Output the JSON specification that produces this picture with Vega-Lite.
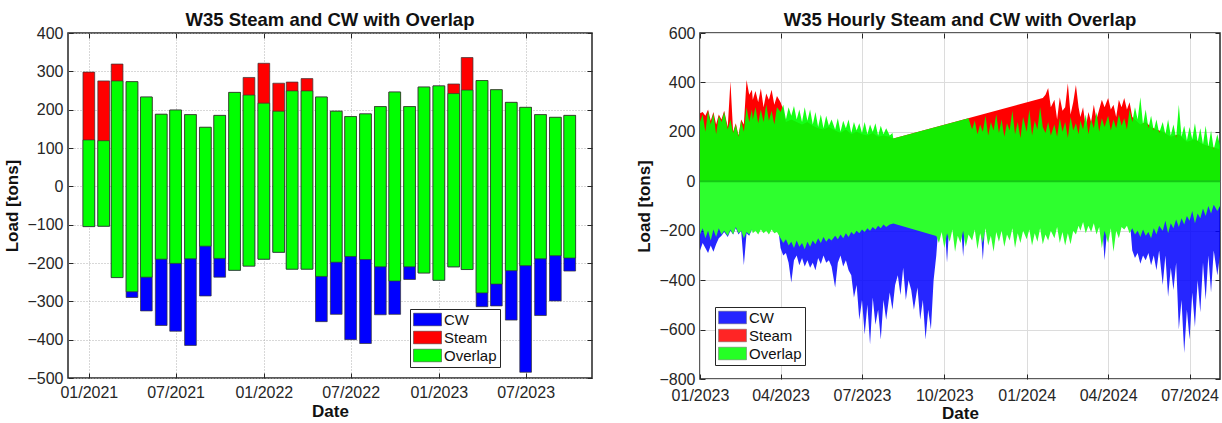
{
  "$schema": "https://vega.github.io/schema/vega-lite/v6.json",
  "padding": {"left": 3, "top": 9, "right": 2, "bottom": 0},
  "spacing": 41,
  "config": {
    "font": "Liberation Sans",
    "view": {"stroke": "#262626", "strokeWidth": 1.5},
    "axis": {"labelFontSize": 16, "labelColor": "#262626", "titleFontSize": 17, "titleFontWeight": "bold", "titleColor": "#111", "tickColor": "#262626", "domain": false, "labelFont": "Liberation Sans", "titleFont": "Liberation Sans", "labelFlush": false},
    "title": {"fontSize": 18.5, "fontWeight": "bold", "font": "Liberation Sans", "offset": -4, "color": "#111"},
    "legend": {"labelFont": "Liberation Sans"}
  },
  "resolve": {"scale": {"color": "independent"}},
  "datasets": {
    "monthly": [
      {"t": "2021-01-01", "s": 298, "g": 121, "gb": -105, "c": -105},
      {"t": "2021-02-01", "s": 275, "g": 119, "gb": -104, "c": -104},
      {"t": "2021-03-01", "s": 319, "g": 275, "gb": -238, "c": -238},
      {"t": "2021-04-01", "s": 273, "g": 273, "gb": -275, "c": -290},
      {"t": "2021-05-01", "s": 233, "g": 233, "gb": -237, "c": -325},
      {"t": "2021-06-01", "s": 188, "g": 188, "gb": -190, "c": -363},
      {"t": "2021-07-01", "s": 199, "g": 199, "gb": -201, "c": -378},
      {"t": "2021-08-01", "s": 187, "g": 187, "gb": -189, "c": -415},
      {"t": "2021-09-01", "s": 154, "g": 154, "gb": -156, "c": -286},
      {"t": "2021-10-01", "s": 185, "g": 185, "gb": -188, "c": -237},
      {"t": "2021-11-01", "s": 245, "g": 245, "gb": -219, "c": -219},
      {"t": "2021-12-01", "s": 284, "g": 238, "gb": -208, "c": -208},
      {"t": "2022-01-01", "s": 321, "g": 217, "gb": -190, "c": -190},
      {"t": "2022-02-01", "s": 269, "g": 196, "gb": -172, "c": -172},
      {"t": "2022-03-01", "s": 272, "g": 249, "gb": -216, "c": -216},
      {"t": "2022-04-01", "s": 281, "g": 249, "gb": -216, "c": -216},
      {"t": "2022-05-01", "s": 233, "g": 233, "gb": -235, "c": -353},
      {"t": "2022-06-01", "s": 196, "g": 196, "gb": -198, "c": -334},
      {"t": "2022-07-01", "s": 182, "g": 182, "gb": -183, "c": -400},
      {"t": "2022-08-01", "s": 189, "g": 189, "gb": -191, "c": -410},
      {"t": "2022-09-01", "s": 208, "g": 208, "gb": -210, "c": -335},
      {"t": "2022-10-01", "s": 246, "g": 246, "gb": -247, "c": -334},
      {"t": "2022-11-01", "s": 208, "g": 208, "gb": -210, "c": -243},
      {"t": "2022-12-01", "s": 259, "g": 259, "gb": -226, "c": -226},
      {"t": "2023-01-01", "s": 262, "g": 262, "gb": -245, "c": -245},
      {"t": "2023-02-01", "s": 267, "g": 242, "gb": -210, "c": -210},
      {"t": "2023-03-01", "s": 336, "g": 251, "gb": -217, "c": -217},
      {"t": "2023-04-01", "s": 276, "g": 276, "gb": -278, "c": -314},
      {"t": "2023-05-01", "s": 252, "g": 252, "gb": -255, "c": -312},
      {"t": "2023-06-01", "s": 219, "g": 219, "gb": -220, "c": -349},
      {"t": "2023-07-01", "s": 206, "g": 206, "gb": -207, "c": -485},
      {"t": "2023-08-01", "s": 187, "g": 187, "gb": -189, "c": -337},
      {"t": "2023-09-01", "s": 180, "g": 180, "gb": -181, "c": -299},
      {"t": "2023-10-01", "s": 185, "g": 185, "gb": -187, "c": -221}
    ],
    "steam": [
      {"t": "2023-01-01", "v": 275}, {"t": "2023-01-04", "v": 280}, {"t": "2023-01-07", "v": 265}, {"t": "2023-01-10", "v": 290}, {"t": "2023-01-13", "v": 245}, {"t": "2023-01-16", "v": 280}, {"t": "2023-01-19", "v": 230}, {"t": "2023-01-22", "v": 270}, {"t": "2023-01-25", "v": 250}, {"t": "2023-01-28", "v": 285},
      {"t": "2023-02-01", "v": 220}, {"t": "2023-02-04", "v": 404}, {"t": "2023-02-07", "v": 200}, {"t": "2023-02-10", "v": 235}, {"t": "2023-02-13", "v": 185}, {"t": "2023-02-16", "v": 250}, {"t": "2023-02-19", "v": 230}, {"t": "2023-02-22", "v": 410}, {"t": "2023-02-25", "v": 350}, {"t": "2023-02-28", "v": 370},
      {"t": "2023-03-01", "v": 330}, {"t": "2023-03-04", "v": 365}, {"t": "2023-03-07", "v": 320}, {"t": "2023-03-10", "v": 375}, {"t": "2023-03-13", "v": 300}, {"t": "2023-03-16", "v": 355}, {"t": "2023-03-19", "v": 330}, {"t": "2023-03-22", "v": 370}, {"t": "2023-03-25", "v": 310}, {"t": "2023-03-28", "v": 345},
      {"t": "2023-04-01", "v": 320}, {"t": "2023-04-04", "v": 290}, {"t": "2023-04-07", "v": 240}, {"t": "2023-04-13", "v": 250}, {"t": "2023-04-19", "v": 240}, {"t": "2023-04-25", "v": 230},
      {"t": "2023-05-01", "v": 240}, {"t": "2023-05-07", "v": 225}, {"t": "2023-05-13", "v": 215}, {"t": "2023-05-19", "v": 210}, {"t": "2023-05-25", "v": 220},
      {"t": "2023-06-01", "v": 205}, {"t": "2023-06-07", "v": 195}, {"t": "2023-06-13", "v": 210}, {"t": "2023-06-19", "v": 190}, {"t": "2023-06-25", "v": 200},
      {"t": "2023-07-01", "v": 190}, {"t": "2023-07-07", "v": 185}, {"t": "2023-07-13", "v": 195}, {"t": "2023-07-19", "v": 180}, {"t": "2023-07-25", "v": 185},
      {"t": "2023-08-01", "v": 180}, {"t": "2023-08-05", "v": 173},
      {"t": "2024-01-19", "v": 337}, {"t": "2024-01-22", "v": 350}, {"t": "2024-01-25", "v": 377}, {"t": "2024-01-28", "v": 300},
      {"t": "2024-02-01", "v": 330}, {"t": "2024-02-04", "v": 250}, {"t": "2024-02-07", "v": 340}, {"t": "2024-02-10", "v": 285}, {"t": "2024-02-13", "v": 300}, {"t": "2024-02-16", "v": 397}, {"t": "2024-02-19", "v": 270}, {"t": "2024-02-22", "v": 320}, {"t": "2024-02-25", "v": 390}, {"t": "2024-02-28", "v": 300},
      {"t": "2024-03-01", "v": 260}, {"t": "2024-03-04", "v": 300}, {"t": "2024-03-07", "v": 220}, {"t": "2024-03-10", "v": 280}, {"t": "2024-03-13", "v": 240}, {"t": "2024-03-16", "v": 310}, {"t": "2024-03-19", "v": 250}, {"t": "2024-03-22", "v": 290}, {"t": "2024-03-25", "v": 330}, {"t": "2024-03-28", "v": 300},
      {"t": "2024-04-01", "v": 337}, {"t": "2024-04-04", "v": 290}, {"t": "2024-04-07", "v": 310}, {"t": "2024-04-10", "v": 260}, {"t": "2024-04-13", "v": 330}, {"t": "2024-04-16", "v": 300}, {"t": "2024-04-19", "v": 337}, {"t": "2024-04-22", "v": 290}, {"t": "2024-04-25", "v": 320}, {"t": "2024-04-28", "v": 260},
      {"t": "2024-05-01", "v": 250}, {"t": "2024-05-07", "v": 230}, {"t": "2024-05-13", "v": 240}, {"t": "2024-05-19", "v": 220}, {"t": "2024-05-25", "v": 210},
      {"t": "2024-06-01", "v": 200}, {"t": "2024-06-10", "v": 180}, {"t": "2024-06-19", "v": 190}, {"t": "2024-06-28", "v": 160},
      {"t": "2024-07-07", "v": 170}, {"t": "2024-07-16", "v": 150}, {"t": "2024-07-25", "v": 140}, {"t": "2024-08-04", "v": 130}
    ],
    "ovtop": [
      {"t": "2023-01-01", "v": 240}, {"t": "2023-01-04", "v": 270}, {"t": "2023-01-07", "v": 200}, {"t": "2023-01-10", "v": 285}, {"t": "2023-01-13", "v": 230}, {"t": "2023-01-16", "v": 275}, {"t": "2023-01-19", "v": 190}, {"t": "2023-01-22", "v": 265}, {"t": "2023-01-25", "v": 240}, {"t": "2023-01-28", "v": 280},
      {"t": "2023-02-01", "v": 210}, {"t": "2023-02-04", "v": 250}, {"t": "2023-02-07", "v": 195}, {"t": "2023-02-10", "v": 230}, {"t": "2023-02-13", "v": 180}, {"t": "2023-02-16", "v": 245}, {"t": "2023-02-19", "v": 200}, {"t": "2023-02-22", "v": 300}, {"t": "2023-02-25", "v": 240}, {"t": "2023-02-28", "v": 290},
      {"t": "2023-03-01", "v": 250}, {"t": "2023-03-04", "v": 300}, {"t": "2023-03-07", "v": 235}, {"t": "2023-03-10", "v": 290}, {"t": "2023-03-13", "v": 240}, {"t": "2023-03-16", "v": 310}, {"t": "2023-03-19", "v": 245}, {"t": "2023-03-22", "v": 285}, {"t": "2023-03-25", "v": 230}, {"t": "2023-03-28", "v": 300},
      {"t": "2023-04-01", "v": 280}, {"t": "2023-04-04", "v": 310}, {"t": "2023-04-07", "v": 250}, {"t": "2023-04-10", "v": 300}, {"t": "2023-04-13", "v": 265}, {"t": "2023-04-16", "v": 305}, {"t": "2023-04-19", "v": 250}, {"t": "2023-04-22", "v": 290}, {"t": "2023-04-25", "v": 240}, {"t": "2023-04-28", "v": 300},
      {"t": "2023-05-01", "v": 245}, {"t": "2023-05-04", "v": 290}, {"t": "2023-05-07", "v": 230}, {"t": "2023-05-10", "v": 280}, {"t": "2023-05-13", "v": 220}, {"t": "2023-05-16", "v": 270}, {"t": "2023-05-19", "v": 215}, {"t": "2023-05-22", "v": 265}, {"t": "2023-05-25", "v": 225}, {"t": "2023-05-28", "v": 250},
      {"t": "2023-06-01", "v": 210}, {"t": "2023-06-04", "v": 255}, {"t": "2023-06-07", "v": 200}, {"t": "2023-06-10", "v": 245}, {"t": "2023-06-13", "v": 215}, {"t": "2023-06-16", "v": 250}, {"t": "2023-06-19", "v": 195}, {"t": "2023-06-22", "v": 240}, {"t": "2023-06-25", "v": 205}, {"t": "2023-06-28", "v": 235},
      {"t": "2023-07-01", "v": 195}, {"t": "2023-07-04", "v": 240}, {"t": "2023-07-07", "v": 190}, {"t": "2023-07-10", "v": 230}, {"t": "2023-07-13", "v": 200}, {"t": "2023-07-16", "v": 235}, {"t": "2023-07-19", "v": 185}, {"t": "2023-07-22", "v": 225}, {"t": "2023-07-25", "v": 190}, {"t": "2023-07-28", "v": 215},
      {"t": "2023-08-01", "v": 185}, {"t": "2023-08-04", "v": 195}, {"t": "2023-08-05", "v": 173},
      {"t": "2023-10-28", "v": 255},
      {"t": "2023-11-01", "v": 210}, {"t": "2023-11-04", "v": 245}, {"t": "2023-11-07", "v": 190}, {"t": "2023-11-10", "v": 230}, {"t": "2023-11-13", "v": 200}, {"t": "2023-11-16", "v": 265}, {"t": "2023-11-19", "v": 185}, {"t": "2023-11-22", "v": 240}, {"t": "2023-11-25", "v": 205}, {"t": "2023-11-28", "v": 270},
      {"t": "2023-12-01", "v": 195}, {"t": "2023-12-04", "v": 250}, {"t": "2023-12-07", "v": 180}, {"t": "2023-12-10", "v": 235}, {"t": "2023-12-13", "v": 205}, {"t": "2023-12-16", "v": 285}, {"t": "2023-12-19", "v": 190}, {"t": "2023-12-22", "v": 240}, {"t": "2023-12-25", "v": 175}, {"t": "2023-12-28", "v": 260},
      {"t": "2024-01-01", "v": 200}, {"t": "2024-01-04", "v": 290}, {"t": "2024-01-07", "v": 185}, {"t": "2024-01-10", "v": 245}, {"t": "2024-01-13", "v": 210}, {"t": "2024-01-16", "v": 300}, {"t": "2024-01-19", "v": 220}, {"t": "2024-01-22", "v": 195}, {"t": "2024-01-25", "v": 240}, {"t": "2024-01-28", "v": 185},
      {"t": "2024-02-01", "v": 230}, {"t": "2024-02-04", "v": 180}, {"t": "2024-02-07", "v": 255}, {"t": "2024-02-10", "v": 200}, {"t": "2024-02-13", "v": 240}, {"t": "2024-02-16", "v": 175}, {"t": "2024-02-19", "v": 260}, {"t": "2024-02-22", "v": 205}, {"t": "2024-02-25", "v": 235}, {"t": "2024-02-28", "v": 190},
      {"t": "2024-03-01", "v": 245}, {"t": "2024-03-04", "v": 210}, {"t": "2024-03-07", "v": 270}, {"t": "2024-03-10", "v": 190}, {"t": "2024-03-13", "v": 250}, {"t": "2024-03-16", "v": 215}, {"t": "2024-03-19", "v": 280}, {"t": "2024-03-22", "v": 200}, {"t": "2024-03-25", "v": 255}, {"t": "2024-03-28", "v": 220},
      {"t": "2024-04-01", "v": 265}, {"t": "2024-04-04", "v": 205}, {"t": "2024-04-07", "v": 250}, {"t": "2024-04-10", "v": 215}, {"t": "2024-04-13", "v": 270}, {"t": "2024-04-16", "v": 225}, {"t": "2024-04-19", "v": 255}, {"t": "2024-04-22", "v": 210}, {"t": "2024-04-25", "v": 290}, {"t": "2024-04-28", "v": 240},
      {"t": "2024-05-01", "v": 300}, {"t": "2024-05-04", "v": 250}, {"t": "2024-05-07", "v": 340}, {"t": "2024-05-10", "v": 230}, {"t": "2024-05-13", "v": 290}, {"t": "2024-05-16", "v": 215}, {"t": "2024-05-19", "v": 265}, {"t": "2024-05-22", "v": 205}, {"t": "2024-05-25", "v": 250}, {"t": "2024-05-28", "v": 195},
      {"t": "2024-06-01", "v": 240}, {"t": "2024-06-04", "v": 190}, {"t": "2024-06-07", "v": 250}, {"t": "2024-06-10", "v": 185}, {"t": "2024-06-13", "v": 230}, {"t": "2024-06-16", "v": 175}, {"t": "2024-06-19", "v": 310}, {"t": "2024-06-22", "v": 180}, {"t": "2024-06-25", "v": 225}, {"t": "2024-06-28", "v": 165},
      {"t": "2024-07-01", "v": 220}, {"t": "2024-07-04", "v": 170}, {"t": "2024-07-07", "v": 235}, {"t": "2024-07-10", "v": 160}, {"t": "2024-07-13", "v": 215}, {"t": "2024-07-16", "v": 150}, {"t": "2024-07-19", "v": 225}, {"t": "2024-07-22", "v": 140}, {"t": "2024-07-25", "v": 205}, {"t": "2024-07-28", "v": 130},
      {"t": "2024-08-01", "v": 190}, {"t": "2024-08-04", "v": 145}
    ],
    "ovbot": [
      {"t": "2023-01-01", "v": -215}, {"t": "2023-01-04", "v": -190}, {"t": "2023-01-07", "v": -230}, {"t": "2023-01-10", "v": -200}, {"t": "2023-01-13", "v": -240}, {"t": "2023-01-16", "v": -195}, {"t": "2023-01-19", "v": -225}, {"t": "2023-01-22", "v": -190}, {"t": "2023-01-25", "v": -215}, {"t": "2023-01-28", "v": -200},
      {"t": "2023-02-01", "v": -220}, {"t": "2023-02-04", "v": -195}, {"t": "2023-02-07", "v": -215}, {"t": "2023-02-10", "v": -185}, {"t": "2023-02-13", "v": -210}, {"t": "2023-02-16", "v": -200}, {"t": "2023-02-19", "v": -230}, {"t": "2023-02-22", "v": -205}, {"t": "2023-02-25", "v": -215}, {"t": "2023-02-28", "v": -195},
      {"t": "2023-03-01", "v": -210}, {"t": "2023-03-04", "v": -200}, {"t": "2023-03-07", "v": -215}, {"t": "2023-03-10", "v": -195}, {"t": "2023-03-13", "v": -210}, {"t": "2023-03-16", "v": -200}, {"t": "2023-03-19", "v": -215}, {"t": "2023-03-22", "v": -195}, {"t": "2023-03-25", "v": -210}, {"t": "2023-03-28", "v": -205},
      {"t": "2023-04-01", "v": -230}, {"t": "2023-04-04", "v": -250}, {"t": "2023-04-07", "v": -235}, {"t": "2023-04-10", "v": -260}, {"t": "2023-04-13", "v": -245}, {"t": "2023-04-16", "v": -270}, {"t": "2023-04-19", "v": -240}, {"t": "2023-04-22", "v": -265}, {"t": "2023-04-25", "v": -250}, {"t": "2023-04-28", "v": -275},
      {"t": "2023-05-01", "v": -245}, {"t": "2023-05-04", "v": -265}, {"t": "2023-05-07", "v": -240}, {"t": "2023-05-10", "v": -255}, {"t": "2023-05-13", "v": -230}, {"t": "2023-05-16", "v": -250}, {"t": "2023-05-19", "v": -225}, {"t": "2023-05-22", "v": -245}, {"t": "2023-05-25", "v": -230}, {"t": "2023-05-28", "v": -240},
      {"t": "2023-06-01", "v": -220}, {"t": "2023-06-04", "v": -235}, {"t": "2023-06-07", "v": -215}, {"t": "2023-06-10", "v": -230}, {"t": "2023-06-13", "v": -210}, {"t": "2023-06-16", "v": -225}, {"t": "2023-06-19", "v": -205}, {"t": "2023-06-22", "v": -215}, {"t": "2023-06-25", "v": -200}, {"t": "2023-06-28", "v": -210},
      {"t": "2023-07-01", "v": -195}, {"t": "2023-07-04", "v": -205}, {"t": "2023-07-07", "v": -190}, {"t": "2023-07-10", "v": -200}, {"t": "2023-07-13", "v": -185}, {"t": "2023-07-16", "v": -195}, {"t": "2023-07-19", "v": -180}, {"t": "2023-07-22", "v": -190}, {"t": "2023-07-25", "v": -175}, {"t": "2023-07-28", "v": -185},
      {"t": "2023-08-01", "v": -175}, {"t": "2023-08-05", "v": -171},
      {"t": "2023-09-22", "v": -221}, {"t": "2023-09-25", "v": -250}, {"t": "2023-09-28", "v": -205},
      {"t": "2023-10-01", "v": -270}, {"t": "2023-10-04", "v": -210}, {"t": "2023-10-07", "v": -245}, {"t": "2023-10-10", "v": -195}, {"t": "2023-10-13", "v": -285}, {"t": "2023-10-16", "v": -220}, {"t": "2023-10-19", "v": -250}, {"t": "2023-10-22", "v": -200}, {"t": "2023-10-25", "v": -265}, {"t": "2023-10-28", "v": -215},
      {"t": "2023-11-01", "v": -240}, {"t": "2023-11-04", "v": -195}, {"t": "2023-11-07", "v": -275}, {"t": "2023-11-10", "v": -210}, {"t": "2023-11-13", "v": -250}, {"t": "2023-11-16", "v": -190}, {"t": "2023-11-19", "v": -260}, {"t": "2023-11-22", "v": -220}, {"t": "2023-11-25", "v": -285}, {"t": "2023-11-28", "v": -205},
      {"t": "2023-12-01", "v": -245}, {"t": "2023-12-04", "v": -200}, {"t": "2023-12-07", "v": -265}, {"t": "2023-12-10", "v": -215}, {"t": "2023-12-13", "v": -240}, {"t": "2023-12-16", "v": -190}, {"t": "2023-12-19", "v": -270}, {"t": "2023-12-22", "v": -210}, {"t": "2023-12-25", "v": -250}, {"t": "2023-12-28", "v": -200},
      {"t": "2024-01-01", "v": -235}, {"t": "2024-01-04", "v": -195}, {"t": "2024-01-07", "v": -260}, {"t": "2024-01-10", "v": -210}, {"t": "2024-01-13", "v": -245}, {"t": "2024-01-16", "v": -190}, {"t": "2024-01-19", "v": -255}, {"t": "2024-01-22", "v": -215}, {"t": "2024-01-25", "v": -240}, {"t": "2024-01-28", "v": -200},
      {"t": "2024-02-01", "v": -230}, {"t": "2024-02-04", "v": -185}, {"t": "2024-02-07", "v": -250}, {"t": "2024-02-10", "v": -205}, {"t": "2024-02-13", "v": -260}, {"t": "2024-02-16", "v": -210}, {"t": "2024-02-19", "v": -255}, {"t": "2024-02-22", "v": -200}, {"t": "2024-02-25", "v": -215}, {"t": "2024-02-28", "v": -180},
      {"t": "2024-03-01", "v": -200}, {"t": "2024-03-04", "v": -165}, {"t": "2024-03-07", "v": -210}, {"t": "2024-03-10", "v": -180}, {"t": "2024-03-13", "v": -205}, {"t": "2024-03-16", "v": -170}, {"t": "2024-03-19", "v": -215}, {"t": "2024-03-22", "v": -185}, {"t": "2024-03-25", "v": -270}, {"t": "2024-03-28", "v": -200},
      {"t": "2024-04-01", "v": -250}, {"t": "2024-04-04", "v": -190}, {"t": "2024-04-07", "v": -285}, {"t": "2024-04-10", "v": -200}, {"t": "2024-04-13", "v": -230}, {"t": "2024-04-16", "v": -185}, {"t": "2024-04-19", "v": -195}, {"t": "2024-04-22", "v": -180}, {"t": "2024-04-25", "v": -210}, {"t": "2024-04-28", "v": -190},
      {"t": "2024-05-01", "v": -215}, {"t": "2024-05-04", "v": -200}, {"t": "2024-05-07", "v": -225}, {"t": "2024-05-10", "v": -195}, {"t": "2024-05-13", "v": -220}, {"t": "2024-05-16", "v": -205}, {"t": "2024-05-19", "v": -230}, {"t": "2024-05-22", "v": -190}, {"t": "2024-05-25", "v": -215}, {"t": "2024-05-28", "v": -180},
      {"t": "2024-06-01", "v": -200}, {"t": "2024-06-04", "v": -160}, {"t": "2024-06-07", "v": -210}, {"t": "2024-06-10", "v": -170}, {"t": "2024-06-13", "v": -190}, {"t": "2024-06-16", "v": -155}, {"t": "2024-06-19", "v": -185}, {"t": "2024-06-22", "v": -150}, {"t": "2024-06-25", "v": -175}, {"t": "2024-06-28", "v": -140},
      {"t": "2024-07-01", "v": -160}, {"t": "2024-07-04", "v": -120}, {"t": "2024-07-07", "v": -170}, {"t": "2024-07-10", "v": -130}, {"t": "2024-07-13", "v": -150}, {"t": "2024-07-16", "v": -110}, {"t": "2024-07-19", "v": -140}, {"t": "2024-07-22", "v": -100}, {"t": "2024-07-25", "v": -130}, {"t": "2024-07-28", "v": -95},
      {"t": "2024-08-01", "v": -120}, {"t": "2024-08-04", "v": -100}
    ],
    "cw": [
      {"t": "2023-01-01", "v": -280}, {"t": "2023-01-04", "v": -250}, {"t": "2023-01-07", "v": -270}, {"t": "2023-01-10", "v": -290}, {"t": "2023-01-13", "v": -260}, {"t": "2023-01-16", "v": -285}, {"t": "2023-01-19", "v": -255}, {"t": "2023-01-22", "v": -230}, {"t": "2023-01-25", "v": -220}, {"t": "2023-01-28", "v": -205},
      {"t": "2023-02-01", "v": -225}, {"t": "2023-02-04", "v": -200}, {"t": "2023-02-07", "v": -215}, {"t": "2023-02-10", "v": -190}, {"t": "2023-02-13", "v": -215}, {"t": "2023-02-16", "v": -200}, {"t": "2023-02-19", "v": -340}, {"t": "2023-02-22", "v": -210}, {"t": "2023-02-25", "v": -220}, {"t": "2023-02-28", "v": -195},
      {"t": "2023-03-01", "v": -150}, {"t": "2023-03-28", "v": -150},
      {"t": "2023-04-01", "v": -270}, {"t": "2023-04-04", "v": -300}, {"t": "2023-04-07", "v": -290}, {"t": "2023-04-10", "v": -330}, {"t": "2023-04-13", "v": -410}, {"t": "2023-04-16", "v": -320}, {"t": "2023-04-19", "v": -300}, {"t": "2023-04-22", "v": -340}, {"t": "2023-04-25", "v": -310}, {"t": "2023-04-28", "v": -345},
      {"t": "2023-05-01", "v": -320}, {"t": "2023-05-04", "v": -350}, {"t": "2023-05-07", "v": -330}, {"t": "2023-05-10", "v": -360}, {"t": "2023-05-13", "v": -310}, {"t": "2023-05-16", "v": -335}, {"t": "2023-05-19", "v": -300}, {"t": "2023-05-22", "v": -330}, {"t": "2023-05-25", "v": -320}, {"t": "2023-05-28", "v": -345},
      {"t": "2023-06-01", "v": -430}, {"t": "2023-06-04", "v": -330}, {"t": "2023-06-07", "v": -300}, {"t": "2023-06-10", "v": -345}, {"t": "2023-06-13", "v": -320}, {"t": "2023-06-16", "v": -360}, {"t": "2023-06-19", "v": -380}, {"t": "2023-06-22", "v": -470}, {"t": "2023-06-25", "v": -420}, {"t": "2023-06-28", "v": -560},
      {"t": "2023-07-01", "v": -480}, {"t": "2023-07-04", "v": -620}, {"t": "2023-07-07", "v": -500}, {"t": "2023-07-10", "v": -660}, {"t": "2023-07-13", "v": -470}, {"t": "2023-07-16", "v": -580}, {"t": "2023-07-19", "v": -520}, {"t": "2023-07-22", "v": -640}, {"t": "2023-07-25", "v": -480}, {"t": "2023-07-28", "v": -560},
      {"t": "2023-08-01", "v": -450}, {"t": "2023-08-04", "v": -520}, {"t": "2023-08-07", "v": -420}, {"t": "2023-08-10", "v": -380}, {"t": "2023-08-13", "v": -460}, {"t": "2023-08-16", "v": -350}, {"t": "2023-08-19", "v": -480}, {"t": "2023-08-22", "v": -400}, {"t": "2023-08-25", "v": -440}, {"t": "2023-08-28", "v": -520},
      {"t": "2023-09-01", "v": -430}, {"t": "2023-09-04", "v": -560}, {"t": "2023-09-07", "v": -480}, {"t": "2023-09-10", "v": -640}, {"t": "2023-09-13", "v": -520}, {"t": "2023-09-16", "v": -600}, {"t": "2023-09-19", "v": -400}, {"t": "2023-09-22", "v": -300}, {"t": "2023-09-25", "v": -150}, {"t": "2023-09-28", "v": -150},
      {"t": "2023-10-01", "v": -150}, {"t": "2023-10-04", "v": -330}, {"t": "2023-10-07", "v": -150}, {"t": "2023-10-19", "v": -150}, {"t": "2023-10-22", "v": -305}, {"t": "2023-10-25", "v": -150},
      {"t": "2023-11-10", "v": -150}, {"t": "2023-11-13", "v": -320}, {"t": "2023-11-16", "v": -150},
      {"t": "2024-03-25", "v": -150}, {"t": "2024-03-28", "v": -320},
      {"t": "2024-04-01", "v": -150}, {"t": "2024-04-25", "v": -150}, {"t": "2024-04-28", "v": -280},
      {"t": "2024-05-01", "v": -310}, {"t": "2024-05-04", "v": -290}, {"t": "2024-05-07", "v": -334}, {"t": "2024-05-10", "v": -300}, {"t": "2024-05-13", "v": -320}, {"t": "2024-05-16", "v": -290}, {"t": "2024-05-19", "v": -340}, {"t": "2024-05-22", "v": -300}, {"t": "2024-05-25", "v": -360}, {"t": "2024-05-28", "v": -280},
      {"t": "2024-06-01", "v": -420}, {"t": "2024-06-04", "v": -300}, {"t": "2024-06-07", "v": -467}, {"t": "2024-06-10", "v": -350}, {"t": "2024-06-13", "v": -440}, {"t": "2024-06-16", "v": -330}, {"t": "2024-06-19", "v": -600}, {"t": "2024-06-22", "v": -480}, {"t": "2024-06-25", "v": -695}, {"t": "2024-06-28", "v": -520},
      {"t": "2024-07-01", "v": -640}, {"t": "2024-07-04", "v": -450}, {"t": "2024-07-07", "v": -590}, {"t": "2024-07-10", "v": -400}, {"t": "2024-07-13", "v": -530}, {"t": "2024-07-16", "v": -330}, {"t": "2024-07-19", "v": -480}, {"t": "2024-07-22", "v": -300}, {"t": "2024-07-25", "v": -450}, {"t": "2024-07-28", "v": -280},
      {"t": "2024-08-01", "v": -380}, {"t": "2024-08-04", "v": -300}
    ]
  },
  "hconcat": [
    {
      "title": "W35 Steam and CW with Overlap",
      "width": 524,
      "height": 345,
      "data": {"name": "monthly"},
      "resolve": {"axis": {"x": "independent", "y": "independent"}},
      "layer": [
        {
          "mark": {"type": "bar", "width": 11.7, "stroke": "#333333", "strokeWidth": 0.7},
          "encoding": {
            "x": {"field": "t", "type": "temporal",
              "scale": {"type": "utc", "domain": [{"year": 2020, "month": 11, "date": 29, "utc": true}, {"year": 2023, "month": 11, "date": 6, "utc": true}]},
              "axis": {"orient": "bottom", "title": "Date", "format": "%m/%Y", "tickCount": {"interval": "month", "step": 6}, "grid": true, "gridDash": [1, 2], "gridColor": "#b0b0b0", "tickSize": -5, "labelPadding": 11, "titlePadding": 3}},
            "y": {"field": "c", "type": "quantitative", "scale": {"domain": [-500, 400], "nice": false, "zero": false},
              "axis": {"orient": "left", "title": "Load [tons]", "values": [-500, -400, -300, -200, -100, 0, 100, 200, 300, 400], "grid": true, "gridDash": [1, 2], "gridColor": "#b0b0b0", "tickSize": -5, "labelPadding": 10, "titlePadding": 5}},
            "y2": {"datum": 0},
            "color": {"datum": "CW", "type": "nominal",
              "scale": {"domain": ["CW", "Steam", "Overlap"], "range": ["#0000ff", "#ff0000", "#00ff00"]},
              "legend": {"orient": "none", "legendX": 342, "legendY": 276, "title": null, "strokeColor": "#262626", "fillColor": "white", "padding": 3, "symbolType": "M-2,-0.9H2V0.9H-2Z", "symbolSize": 196, "symbolStrokeColor": "#555555", "symbolStrokeWidth": 0.5, "symbolOffset": 7, "labelOffset": 9, "labelFontSize": 15, "labelColor": "#111", "rowPadding": 2, "symbolOpacity": 1}}
          }
        },
        {
          "mark": {"type": "bar", "width": 11.7, "stroke": "#333333", "strokeWidth": 0.7},
          "encoding": {
            "x": {"field": "t", "type": "temporal", "axis": null},
            "y": {"field": "s", "type": "quantitative", "axis": null},
            "y2": {"datum": 0},
            "color": {"datum": "Steam", "type": "nominal"}
          }
        },
        {
          "mark": {"type": "bar", "width": 11.7, "stroke": "#333333", "strokeWidth": 0.7},
          "encoding": {
            "x": {"field": "t", "type": "temporal",
              "axis": {"orient": "top", "labels": false, "title": null, "grid": false, "tickSize": -5, "tickCount": {"interval": "month", "step": 6}}},
            "y": {"field": "g", "type": "quantitative",
              "axis": {"orient": "right", "labels": false, "title": null, "grid": false, "tickSize": -5, "values": [-500, -400, -300, -200, -100, 0, 100, 200, 300, 400]}},
            "y2": {"field": "gb"},
            "color": {"datum": "Overlap", "type": "nominal"}
          }
        }
      ]
    },
    {
      "title": "W35 Hourly Steam and CW with Overlap",
      "width": 520,
      "height": 346,
      "resolve": {"axis": {"x": "independent", "y": "independent"}},
      "layer": [
        {
          "data": {"name": "steam"},
          "mark": {"type": "area", "opacity": 1},
          "encoding": {
            "x": {"field": "t", "type": "temporal",
              "scale": {"type": "utc", "domain": [{"year": 2023, "month": 1, "date": 1, "utc": true}, {"year": 2024, "month": 8, "date": 4, "utc": true}]},
              "axis": {"orient": "bottom", "title": "Date", "format": "%m/%Y", "tickCount": {"interval": "month", "step": 3}, "grid": true, "gridColor": "#dcdcdc", "tickSize": -5, "labelPadding": 13, "titlePadding": 2}},
            "y": {"field": "v", "type": "quantitative", "scale": {"domain": [-800, 600], "nice": false, "zero": false},
              "axis": {"orient": "left", "title": "Load [tons]", "values": [-800, -600, -400, -200, 0, 200, 400, 600], "grid": true, "gridColor": "#dcdcdc", "tickSize": -5, "labelPadding": 10, "titlePadding": 5}},
            "y2": {"datum": 0},
            "color": {"datum": "Steam", "type": "nominal",
              "scale": {"domain": ["CW", "Steam", "Overlap"], "range": ["#0000ff", "#ff0000", "#00ff00"]},
              "legend": {"orient": "none", "legendX": 15, "legendY": 274, "title": null, "strokeColor": "#262626", "fillColor": "white", "padding": 3, "symbolType": "M-2,-0.9H2V0.9H-2Z", "symbolSize": 196, "symbolStrokeColor": "#555555", "symbolStrokeWidth": 0.5, "symbolOffset": 7, "labelOffset": 9, "labelFontSize": 15, "labelColor": "#111", "rowPadding": 2, "symbolOpacity": 1}}
          }
        },
        {
          "data": {"name": "cw"},
          "mark": {"type": "area", "opacity": 0.85},
          "encoding": {
            "x": {"field": "t", "type": "temporal", "axis": null},
            "y": {"field": "v", "type": "quantitative", "axis": null},
            "y2": {"datum": 0},
            "color": {"datum": "CW", "type": "nominal"}
          }
        },
        {
          "data": {"name": "ovtop"},
          "mark": {"type": "area", "opacity": 0.92},
          "encoding": {
            "x": {"field": "t", "type": "temporal", "axis": null},
            "y": {"field": "v", "type": "quantitative", "axis": null},
            "y2": {"datum": 0},
            "color": {"datum": "Overlap", "type": "nominal"}
          }
        },
        {
          "data": {"name": "ovbot"},
          "mark": {"type": "area", "color": "#2eff2e"},
          "encoding": {
            "x": {"field": "t", "type": "temporal",
              "axis": {"orient": "top", "labels": false, "title": null, "grid": false, "tickSize": -5, "tickCount": {"interval": "month", "step": 3}}},
            "y": {"field": "v", "type": "quantitative",
              "axis": {"orient": "right", "labels": false, "title": null, "grid": false, "tickSize": -5, "values": [-800, -600, -400, -200, 0, 200, 400, 600]}},
            "y2": {"datum": 0}
          }
        },
        {
          "data": {"values": [{"z": 0}]},
          "mark": {"type": "rule", "color": "#14c814", "strokeWidth": 2},
          "encoding": {"y": {"field": "z", "type": "quantitative", "axis": null}}
        }
      ]
    }
  ]
}
